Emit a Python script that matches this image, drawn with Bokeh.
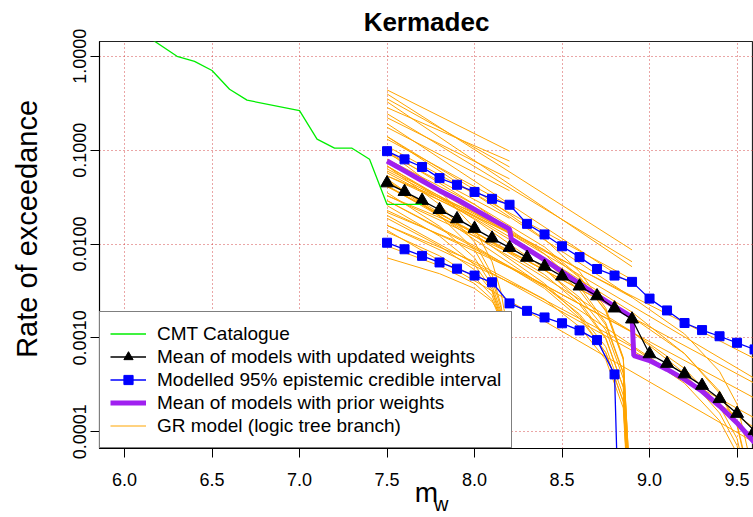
from bokeh.plotting import figure
from bokeh.models import (Range1d, FixedTicker, PrintfTickFormatter, Legend, LegendItem,
                          LinearAxis)
from bokeh.embed import file_html
from bokeh.resources import INLINE

FONT = "Liberation Sans"

# ---------------- data ----------------
x_ticks = [6.0, 6.5, 7.0, 7.5, 8.0, 8.5, 9.0, 9.5]
y_ticks = [0.0001, 0.001, 0.01, 0.1, 1.0]

cmt_mw = [6.1, 6.3, 6.4, 6.5, 6.6, 6.7, 7.0, 7.1, 7.2, 7.3, 7.4, 7.5, 7.7]
cmt_rate = [1.78, 1.0, 0.885, 0.707, 0.446, 0.341, 0.264, 0.131, 0.105, 0.105, 0.080, 0.0264, 0.0264]

model_mw = [7.5, 7.6, 7.7, 7.8, 7.9, 8.0, 8.1, 8.2, 8.3, 8.4, 8.5, 8.6, 8.7, 8.8,
            8.9, 9.0, 9.1, 9.2, 9.3, 9.4, 9.5, 9.6]
mean_updated = [0.0446, 0.0361, 0.0290, 0.0232, 0.0185, 0.0146, 0.0115, 0.00914, 0.00718,
                0.00577, 0.00453, 0.00355, 0.00279, 0.00207, 0.00158, 0.000673, 0.000532,
                0.000411, 0.000310, 0.000224, 0.000156, 0.000102]
ci_upper = [0.0976, 0.0798, 0.0662, 0.0504, 0.0428, 0.0359, 0.0303, 0.0262, 0.0164, 0.01265,
            0.00946, 0.00725, 0.00542, 0.00461, 0.00395, 0.00262, 0.00196, 0.00144, 0.00121,
            0.00104, 0.000886, 0.000753]
ci_lower_mw = [7.5, 7.6, 7.7, 7.8, 7.9, 8.0, 8.1, 8.2, 8.3, 8.4, 8.5, 8.6, 8.7, 8.8, 8.9]
ci_lower = [0.01032, 0.00879, 0.00748, 0.00636, 0.00546, 0.00461, 0.00391, 0.00233, 0.00194,
            0.00165, 0.00143, 0.00120, 0.000946, 0.000408, 1e-10]

prior_mw = [7.5, 7.6, 7.7, 7.8, 7.9, 8.0, 8.1, 8.2, 8.21, 8.3, 8.4, 8.5, 8.6, 8.7, 8.8,
            8.9, 8.91, 9.0, 9.1, 9.2, 9.3, 9.4, 9.5, 9.6]
mean_prior = [0.0766, 0.0601, 0.0472, 0.0370, 0.0298, 0.0234, 0.0183, 0.0144, 0.0113, 0.00886,
              0.00679, 0.00507, 0.00379, 0.00284, 0.00217, 0.00166, 0.000647, 0.000573,
              0.000461, 0.000361, 0.000270, 0.000188, 0.000124, 0.0000766]

# GR branches (logic tree), grouped by maximum magnitude
gr_s82_mw = [7.5, 8.2]
gr_s82 = [[0.439, 0.0976], [0.353, 0.0662], [0.284, 0.0766], [0.222, 0.0495],
          [0.175, 0.0370], [0.131, 0.0257], [0.0929, 0.0188], [0.0631, 0.0134]]

gr_t82_mw = [7.5, 7.8, 8.0, 8.1, 8.15, 8.199]
gr_t82 = [[0.0976, 0.0370, 0.01473, 0.00647, 0.00313, 0.000976],
          [0.0679, 0.0264, 0.0105, 0.00472, 0.00228, 0.000679],
          [0.0495, 0.0202, 0.00865, 0.00418, 0.00212, 0.000450],
          [0.0353, 0.01546, 0.00712, 0.00361, 0.00192, 0.000532],
          [0.0257, 0.01214, 0.00601, 0.00328, 0.00179, 0.000388],
          [0.0188, 0.00953, 0.00532, 0.00313, 0.00166, 0.000766],
          [0.0134, 0.00748, 0.00439, 0.00284, 0.00158, 0.000408],
          [0.00953, 0.00587, 0.00379, 0.00257, 0.00151, 0.000865],
          [0.00712, 0.00483, 0.00336, 0.00245, 0.00175, 0.000472]]

gr_s89_mw = [7.5, 8.9]
gr_s89 = [[0.398, 0.00865], [0.328, 0.00573], [0.245, 0.00647],
          [0.192, 0.00370], [0.140, 0.00270], [0.110, 0.00418]]

gr_t89_mw = [7.5, 8.0, 8.4, 8.6, 8.75, 8.85, 8.899]
gr_t89 = [[0.140, 0.0379, 0.0113, 0.00507, 0.00207, 0.000616, 1.13e-5],
          [0.0976, 0.0264, 0.00785, 0.00353, 0.00144, 0.000428, 7.85e-6],
          [0.0679, 0.0183, 0.00546, 0.00245, 0.00100, 0.000298, 5.46e-6],
          [0.0472, 0.0127, 0.00379, 0.00171, 0.000695, 0.000207, 3.79e-6],
          [0.0804, 0.0264, 0.00930, 0.00450, 0.00192, 0.000586, 1.10e-5],
          [0.0573, 0.0188, 0.00662, 0.00320, 0.00137, 0.000418, 7.85e-6],
          [0.0408, 0.0134, 0.00472, 0.00228, 0.000976, 0.000298, 5.6e-6],
          [0.0290, 0.00953, 0.00336, 0.00162, 0.000695, 0.000212, 3.98e-6],
          [0.0532, 0.0217, 0.00865, 0.00439, 0.00197, 0.000601, 1.21e-5],
          [0.0328, 0.0134, 0.00532, 0.00270, 0.00121, 0.000370, 7.5e-6],
          [0.0217, 0.00886, 0.00353, 0.00179, 0.000804, 0.000245, 4.95e-6],
          [0.0158, 0.00647, 0.00257, 0.00131, 0.000586, 0.000179, 3.6e-6]]

gr_s96_mw = [7.5, 9.6]
gr_s96 = [[0.0601, 0.000601], [0.0418, 0.000328], [0.0290, 0.000228], [0.0202, 0.000140],
          [0.0472, 0.000110], [0.0140, 0.0000766], [0.0766, 0.000370]]

gr_t96_mw = [7.5, 8.3, 8.9, 9.2, 9.4, 9.5, 9.57]
gr_t96 = [[0.0679, 0.0093, 0.00188, 0.000679, 0.000257, 0.000116, 3.13e-5],
          [0.0418, 0.00573, 0.00116, 0.000418, 0.000158, 7.12e-5, 1.92e-5],
          [0.0532, 0.0108, 0.00270, 0.00110, 0.000439, 0.000197, 5.46e-5],
          [0.0328, 0.00662, 0.00166, 0.000679, 0.000270, 0.000121, 3.36e-5],
          [0.0228, 0.00460, 0.00116, 0.000472, 0.000188, 8.44e-5, 2.33e-5],
          [0.0158, 0.00320, 0.000804, 0.000328, 0.000131, 5.86e-5, 1.62e-5]]

legend_labels = ["CMT Catalogue", "Mean of models with updated weights",
                 "Modelled 95% epistemic credible interval",
                 "Mean of models with prior weights", "GR model (logic tree branch)"]
title_text = "Kermadec"
xlabel_main = "m"
xlabel_sub = "w"
ylabel_text = "Rate of exceedance"

# ---------------- figure ----------------
p = figure(width=753, height=517, output_backend="svg", toolbar_location=None,
           y_axis_type="log",
           x_range=Range1d(5.857, 9.594), y_range=Range1d(10 ** -4.179, 10 ** 0.158),
           min_border_left=99, min_border_right=0, min_border_top=39, min_border_bottom=10)
p.background_fill_color = "white"
p.border_fill_color = "white"
p.outline_line_color = "#222222"
p.outline_line_width = 1.2

p.title.text = title_text
p.title.align = "center"
p.title.text_font = FONT
p.title.text_font_size = "26px"
p.title.text_font_style = "bold"
p.title.text_color = "black"
p.title.standoff = 9

# grid
p.xgrid.ticker = FixedTicker(ticks=x_ticks)
p.ygrid.ticker = FixedTicker(ticks=y_ticks)
for g in (p.xgrid, p.ygrid):
    g.grid_line_color = "#d03a3a"
    g.grid_line_dash = "1 3"
    g.grid_line_width = 1
    g.grid_line_alpha = 0.9

# axes
p.xaxis.ticker = FixedTicker(ticks=x_ticks)
p.xaxis.formatter = PrintfTickFormatter(format="%.1f")
p.yaxis.ticker = FixedTicker(ticks=y_ticks)
p.yaxis.formatter = PrintfTickFormatter(format="%.4f")
p.yaxis.major_label_orientation = "vertical"
for ax in (p.xaxis, p.yaxis):
    ax.axis_line_color = "black"
    ax.major_tick_line_color = "black"
    ax.major_tick_out = 9
    ax.major_tick_in = 0
    ax.minor_tick_line_color = None
    ax.major_label_text_font = FONT
    ax.major_label_text_font_size = "18px"
    ax.major_label_text_color = "black"
p.yaxis.major_label_standoff = 4
p.xaxis.major_label_standoff = 15

# leading no-break spaces lift the label along the axis, as in the original
p.yaxis.axis_label = "\u00a0\u00a0\u00a0\u00a0" + ylabel_text
p.yaxis.axis_label_text_font = FONT
p.yaxis.axis_label_text_font_size = "29px"
p.yaxis.axis_label_text_font_style = "normal"
p.yaxis.axis_label_text_color = "black"
p.yaxis.axis_label_standoff = 28

p.xaxis.axis_label = xlabel_main
p.xaxis.axis_label_text_font = FONT
p.xaxis.axis_label_text_font_size = "28px"
p.xaxis.axis_label_text_font_style = "normal"
p.xaxis.axis_label_text_color = "black"
p.xaxis.axis_label_standoff = -12

# subscript "w" of the x label, as a one-tick axis below
w_label_x = 7.81
sub_axis = LinearAxis(ticker=FixedTicker(ticks=[w_label_x]),
                      formatter=PrintfTickFormatter(format=xlabel_sub))
sub_axis.axis_line_color = None
sub_axis.major_tick_line_color = None
sub_axis.minor_tick_line_color = None
sub_axis.major_tick_out = 0
sub_axis.major_tick_in = 0
sub_axis.major_label_text_font = FONT
sub_axis.major_label_text_font_size = "20px"
sub_axis.major_label_text_color = "black"
sub_axis.major_label_standoff = -18
p.add_layout(sub_axis, "below")

# ---------------- glyphs ----------------
def multi(mw, rows):
    return [list(mw) for _ in rows], [list(r) for r in rows]

gr_xs, gr_ys = [], []
for mw, rows in ((gr_s82_mw, gr_s82), (gr_t82_mw, gr_t82), (gr_s89_mw, gr_s89),
                 (gr_t89_mw, gr_t89), (gr_s96_mw, gr_s96), (gr_t96_mw, gr_t96)):
    xs, ys = multi(mw, rows)
    gr_xs += xs
    gr_ys += ys
r_gr = p.multi_line(gr_xs, gr_ys, line_color="#FFA500", line_width=1)

r_prior = p.line(prior_mw, mean_prior, line_color="#A020F0", line_width=5)

r_up_l = p.line(model_mw, ci_upper, line_color="#0000FF", line_width=1.3)
r_up_m = p.scatter(model_mw, ci_upper, marker="square", size=9, color="#0000FF")
r_lo_l = p.line(ci_lower_mw, ci_lower, line_color="#0000FF", line_width=1.3)
p.scatter(ci_lower_mw, ci_lower, marker="square", size=9, color="#0000FF")

r_mu_l = p.line(model_mw, mean_updated, line_color="black", line_width=1.3)
r_mu_m = p.scatter(model_mw, mean_updated, marker="triangle", size=13, color="black")

r_cmt = p.line(cmt_mw, cmt_rate, line_color="#00EE00", line_width=1.3)

legend = Legend(items=[
    LegendItem(label=legend_labels[0], renderers=[r_cmt]),
    LegendItem(label=legend_labels[1], renderers=[r_mu_l, r_mu_m]),
    LegendItem(label=legend_labels[2], renderers=[r_up_l, r_up_m]),
    LegendItem(label=legend_labels[3], renderers=[r_prior]),
    LegendItem(label=legend_labels[4], renderers=[r_gr]),
], location=(0, 0))
legend.label_text_font = FONT
legend.label_text_font_size = "19px"
legend.label_text_color = "black"
legend.label_height = 23
legend.glyph_height = 23
legend.glyph_width = 36
legend.label_standoff = 11
legend.spacing = 0
legend.padding = 10
legend.margin = 0
legend.border_line_color = "black"
legend.border_line_width = 1
legend.background_fill_color = "white"
legend.background_fill_alpha = 1.0
p.add_layout(legend)

open("out.html", "w").write(file_html(p, INLINE))
